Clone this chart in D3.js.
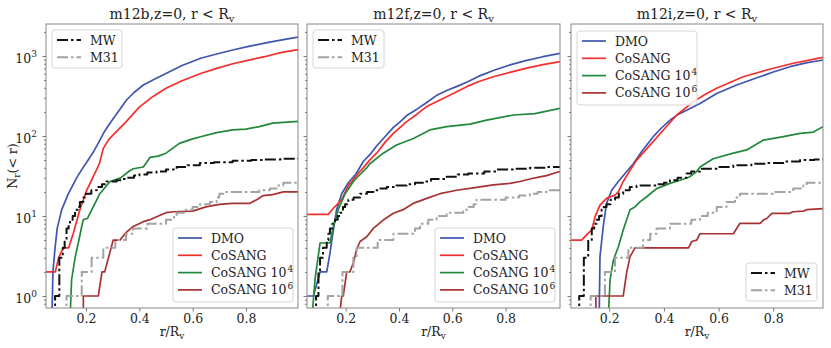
<!DOCTYPE html>
<html>
<head>
<meta charset="utf-8">
<script src="https://cdn.jsdelivr.net/npm/d3@7"></script>
<style>
body { margin: 0; background: #fff; }
text { font-family: "DejaVu Serif", serif; fill: #222; }
</style>
</head>
<body>
<svg id="fig" width="831" height="348"></svg>
<script>
// cumulative subhalo counts N(<r) vs r/Rv as [r/Rv, N]
var m12b_dmo = [[0.072,0.5],[0.076,2],[0.084,4],[0.092,7],[0.109,12],[0.134,19],[0.165,30],[0.184,38],[0.208,50],[0.23,65],[0.252,89],[0.27,115],[0.29,144],[0.32,200],[0.352,282],[0.38,350],[0.415,434],[0.46,520],[0.5,605],[0.56,760],[0.63,936],[0.69,1060],[0.75,1190],[0.81,1320],[0.87,1450],[0.93,1580],[0.995,1720]];
var m12b_cosang = [[0.05,2],[0.085,2],[0.097,3],[0.115,4],[0.135,4],[0.152,6],[0.177,12],[0.2,20],[0.225,30],[0.25,45],[0.265,70],[0.285,90],[0.31,110],[0.35,150],[0.4,230],[0.45,310],[0.5,395],[0.56,490],[0.63,605],[0.69,700],[0.75,800],[0.81,890],[0.87,980],[0.93,1100],[0.995,1200]];
var m12b_c4 = [[0.14,0.5],[0.146,1.6],[0.159,3],[0.171,4.6],[0.184,7.4],[0.19,9],[0.205,9.3],[0.227,13],[0.252,19],[0.29,27],[0.33,30],[0.36,36],[0.377,39],[0.415,41],[0.44,54],[0.47,56],[0.5,61],[0.55,81],[0.6,92],[0.63,98],[0.69,110],[0.75,119],[0.8,122],[0.85,131],[0.9,145],[0.995,152]];
var m12b_c6 = [[0.19,0.5],[0.19,1],[0.246,1],[0.26,2],[0.27,2],[0.302,5],[0.327,5],[0.352,6.3],[0.377,7.4],[0.415,8.5],[0.44,9],[0.465,9.8],[0.5,11],[0.527,11.3],[0.6,11.5],[0.65,13],[0.7,14],[0.75,14.4],[0.815,14.4],[0.84,16],[0.865,18],[0.9,18.5],[0.94,20],[0.995,20]];
var m12b_mw = [[0.084,0.5],[0.084,1],[0.1,3],[0.113,4],[0.12,5],[0.127,7],[0.135,8],[0.14,9],[0.15,10],[0.159,12],[0.17,13],[0.177,15],[0.19,17],[0.2,19],[0.22,21],[0.24,23],[0.26,25],[0.277,27],[0.315,28],[0.335,29],[0.35,30],[0.38,32],[0.4,33],[0.43,35],[0.465,36],[0.5,38],[0.54,41],[0.58,43],[0.627,46],[0.68,47],[0.75,49],[0.82,50],[0.87,51],[0.93,52],[0.995,53]];
var m12b_m31 = [[0.127,0.5],[0.127,1],[0.184,2],[0.221,3],[0.265,4],[0.31,5],[0.35,6],[0.377,7],[0.43,8],[0.5,9],[0.53,10],[0.54,11],[0.575,12],[0.6,13],[0.627,14],[0.665,15],[0.69,17],[0.7,19],[0.72,20],[0.85,21],[0.89,22],[0.915,24],[0.94,26],[0.995,26]];

var m12f_dmo = [[0.05,1],[0.079,1],[0.104,2],[0.129,2],[0.141,3.4],[0.154,6.7],[0.166,12],[0.185,19],[0.21,26],[0.24,34],[0.266,48],[0.29,58],[0.316,75],[0.35,100],[0.379,128],[0.404,150],[0.429,180],[0.466,215],[0.5,257],[0.54,320],[0.579,370],[0.62,420],[0.654,470],[0.7,560],[0.754,660],[0.82,780],[0.879,880],[0.94,980],[1.004,1076]];
var m12f_cosang = [[0.05,10.5],[0.135,10.5],[0.154,12.5],[0.172,14.4],[0.185,16],[0.21,24],[0.223,27],[0.247,34],[0.266,40],[0.29,50],[0.316,61],[0.35,85],[0.379,108],[0.429,151],[0.47,190],[0.504,233],[0.579,310],[0.654,414],[0.7,480],[0.754,550],[0.82,630],[0.879,705],[0.94,780],[1.004,850]];
var m12f_c4 = [[0.073,0.5],[0.085,1.6],[0.095,2.8],[0.104,4.6],[0.141,4.6],[0.154,7.4],[0.172,12],[0.198,19],[0.229,27],[0.254,33],[0.279,40],[0.291,45],[0.341,61],[0.391,77],[0.454,93],[0.516,119],[0.579,131],[0.666,141],[0.729,158],[0.829,183],[0.91,190],[1.004,222]];
var m12f_c6 = [[0.176,0.5],[0.185,1],[0.191,1],[0.204,2],[0.216,2],[0.229,2.6],[0.241,3.8],[0.254,4.8],[0.279,5.5],[0.304,7],[0.341,8.9],[0.379,10.8],[0.416,12],[0.454,14.4],[0.504,16.6],[0.554,19],[0.616,21],[0.679,22.5],[0.754,24.5],[0.816,25.6],[0.854,27],[0.891,29],[0.929,30.8],[0.954,32],[0.99,35],[1.004,36]];
var m12f_mw = [[0.089,0.5],[0.089,1],[0.098,2],[0.104,3],[0.115,4],[0.129,5],[0.135,6],[0.141,7],[0.15,8],[0.16,9],[0.17,10],[0.179,11],[0.19,13],[0.198,14],[0.21,16],[0.23,17],[0.254,19],[0.28,20],[0.304,21],[0.33,22],[0.354,23],[0.39,24],[0.429,25],[0.46,26],[0.49,27],[0.52,29],[0.579,31],[0.62,33],[0.66,34],[0.72,36],[0.766,38],[0.83,39],[0.891,40],[0.95,41],[1.004,41]];
var m12f_m31 = [[0.133,0.5],[0.133,1],[0.188,2],[0.229,3],[0.241,4],[0.32,5],[0.379,6],[0.46,7],[0.479,8],[0.51,9],[0.541,10],[0.579,11],[0.641,12],[0.66,13],[0.68,14],[0.691,16],[0.8,17],[0.85,18],[0.891,19],[0.92,20],[0.954,21],[1.004,21]];

var m12i_dmo = [[0.163,0.5],[0.166,3.1],[0.178,7.4],[0.19,14.4],[0.209,21],[0.233,27],[0.264,36],[0.288,45],[0.32,65],[0.361,98],[0.39,125],[0.422,158],[0.45,185],[0.483,210],[0.532,255],[0.593,340],[0.666,434],[0.751,550],[0.8,630],[0.861,735],[0.92,820],[0.982,891]];
var m12i_cosang = [[0.06,5],[0.099,5],[0.117,5.8],[0.136,6.7],[0.148,9.8],[0.166,13.7],[0.19,16.6],[0.221,18.3],[0.233,20],[0.251,27],[0.282,40],[0.3,50],[0.349,77],[0.398,119],[0.447,183],[0.507,267],[0.55,330],[0.593,395],[0.69,550],[0.776,668],[0.873,812],[0.982,960]];
var m12i_c4 = [[0.196,0.5],[0.203,1.6],[0.215,2.8],[0.233,4.1],[0.251,6.7],[0.276,12],[0.294,13],[0.312,15],[0.337,17.4],[0.373,22],[0.422,25.6],[0.459,28],[0.495,31],[0.52,36],[0.532,41],[0.58,52],[0.654,61],[0.703,67],[0.764,89],[0.837,98],[0.898,108],[0.947,112],[0.982,131]];
var m12i_c6 = [[0.151,0.5],[0.151,1],[0.251,1],[0.264,2],[0.276,3.1],[0.294,4],[0.49,4],[0.502,4.8],[0.52,5],[0.532,6],[0.654,6],[0.678,8.1],[0.752,8.1],[0.764,8.9],[0.776,9.3],[0.795,10.8],[0.86,10.8],[0.872,11.3],[0.91,11.5],[0.922,12],[0.982,12.4]];
var m12i_mw = [[0.09,0.5],[0.09,1],[0.107,3],[0.123,5],[0.136,7],[0.145,8],[0.154,9],[0.163,10],[0.172,12],[0.18,13],[0.19,14],[0.205,16],[0.221,17],[0.235,19],[0.251,21],[0.275,23],[0.3,24],[0.373,25],[0.4,26],[0.422,28],[0.45,30],[0.483,34],[0.5,36],[0.532,39],[0.6,41],[0.654,43],[0.72,45],[0.776,46],[0.84,48],[0.898,50],[0.95,51],[0.982,51]];
var m12i_m31 = [[0.132,0.5],[0.132,1],[0.184,2],[0.221,3],[0.27,4],[0.324,5],[0.35,6],[0.373,7],[0.422,8],[0.5,9],[0.532,10],[0.56,11],[0.593,13],[0.629,15],[0.66,17],[0.678,19],[0.8,20],[0.873,22],[0.91,24],[0.922,26],[0.982,26]];

var haloNames = ["m12b", "m12f", "m12i"];
var simLabels = ["DMO", "CoSANG", "CoSANG 10", "CoSANG 10"];
var simSups = ["", "", "4", "6"];
var obsLabels = ["MW", "M31"];
var xTickValues = [0.2, 0.4, 0.6, 0.8];
var yTickValues = [1, 10, 100, 1000];
var yTickExps = ["0", "1", "2", "3"];

var svg = d3.select("#fig");
var plotTop = 24, plotBottom = 308;

var y = d3.scaleLog()
    .domain([0.708, 2512])
    .range([plotBottom, plotTop]);

// line styles: DMO, CoSANG, CoSANG 1e4, CoSANG 1e6, MW, M31
var styles = [
    {color: "#3f55ae", width: 1.7, dash: null, curve: d3.curveLinear},
    {color: "#f52d2d", width: 1.7, dash: null, curve: d3.curveLinear},
    {color: "#22883a", width: 1.7, dash: null, curve: d3.curveLinear},
    {color: "#a83232", width: 1.7, dash: null, curve: d3.curveLinear},
    {color: "#111111", width: 2, dash: "11,3,2.5,3", curve: d3.curveStepAfter},
    {color: "#a3a3a3", width: 2, dash: "11,3,2.5,3", curve: d3.curveStepAfter}
];

var panels = [
    {left: 46, right: 298, xlim: [0.05, 0.995], yLabels: true,
     series: [m12b_dmo, m12b_cosang, m12b_c4, m12b_c6, m12b_mw, m12b_m31],
     simBox: [173, 228, 120, 74], obsBox: [52, 30, 70, 38]},
    {left: 307, right: 560, xlim: [0.055, 1.004], yLabels: false,
     series: [m12f_dmo, m12f_cosang, m12f_c4, m12f_c6, m12f_mw, m12f_m31],
     simBox: [435, 228, 120, 74], obsBox: [313, 30, 71, 38]},
    {left: 571, right: 823, xlim: [0.06, 0.982], yLabels: false,
     series: [m12i_dmo, m12i_cosang, m12i_c4, m12i_c6, m12i_mw, m12i_m31],
     simBox: [577, 31, 120, 74], obsBox: [746, 263, 71, 38]}
];

var yMinor = y.ticks().filter(function(d) { return yTickValues.indexOf(d) < 0; });

function legendBox(g, box, rows) {
    g.append("rect")
        .attr("x", box[0]).attr("y", box[1])
        .attr("width", box[2]).attr("height", box[3])
        .attr("rx", 3)
        .attr("fill", "#fff").attr("fill-opacity", 0.85)
        .attr("stroke", "#d5d5d5").attr("stroke-width", 1);
    rows.forEach(function(r, i) {
        var ly = box[1] + 10 + i * 17.3;
        g.append("line")
            .attr("x1", box[0] + 5).attr("x2", box[0] + 29)
            .attr("y1", ly).attr("y2", ly)
            .attr("stroke", r.style.color)
            .attr("stroke-width", r.style.width)
            .attr("stroke-dasharray", r.style.dash);
        var t = g.append("text")
            .attr("x", box[0] + 38).attr("y", ly + 4.5)
            .style("font-size", "12.5px");
        t.append("tspan").text(r.label);
        if (r.sup) {
            t.append("tspan").attr("dx", 1).attr("dy", -5)
                .style("font-size", "9px").text(r.sup);
        }
    });
}

panels.forEach(function(p, pi) {
    var x = d3.scaleLinear().domain(p.xlim).range([p.left, p.right]);
    var g = svg.append("g");

    g.append("clipPath").attr("id", "clip" + pi)
        .append("rect")
        .attr("x", p.left).attr("y", plotTop)
        .attr("width", p.right - p.left).attr("height", plotBottom - plotTop);

    // x axis
    var xa = g.append("g")
        .attr("transform", "translate(0," + plotBottom + ")")
        .call(d3.axisBottom(x).tickValues(xTickValues).tickSize(3.5).tickPadding(3)
            .tickFormat(d3.format(".1f")));
    xa.select(".domain").remove();
    xa.selectAll("line").attr("stroke", "#777");
    xa.selectAll("text").style("font-size", "12.5px").attr("fill", "#222");

    // y axis, minor then major
    var ym = g.append("g")
        .attr("transform", "translate(" + p.left + ",0)")
        .call(d3.axisLeft(y).tickValues(yMinor).tickSize(2).tickFormat(""));
    ym.select(".domain").remove();
    ym.selectAll("line").attr("stroke", "#777");

    var yM = g.append("g")
        .attr("transform", "translate(" + p.left + ",0)")
        .call(d3.axisLeft(y).tickValues(yTickValues).tickSize(3.5).tickPadding(4)
            .tickFormat(function() { return ""; }));
    yM.select(".domain").remove();
    yM.selectAll("line").attr("stroke", "#777");
    if (p.yLabels) {
        yM.selectAll(".tick text").each(function(d, i) {
            var t = d3.select(this).style("font-size", "12.5px").attr("fill", "#222")
                .attr("dy", "0.5em").attr("x", -9);
            t.append("tspan").text("10");
            t.append("tspan").attr("dy", -6).style("font-size", "9px").text(yTickExps[i]);
        });
    }

    // curves
    var lines = g.append("g").attr("clip-path", "url(#clip" + pi + ")");
    p.series.forEach(function(s, si) {
        var st = styles[si];
        var line = d3.line()
            .curve(st.curve)
            .x(function(d) { return x(d[0]); })
            .y(function(d) { return y(d[1]); });
        lines.append("path")
            .datum(s)
            .attr("fill", "none")
            .attr("stroke", st.color)
            .attr("stroke-width", st.width)
            .attr("stroke-dasharray", st.dash)
            .attr("stroke-linejoin", "round")
            .attr("d", line);
    });

    // frame
    g.append("rect")
        .attr("x", p.left).attr("y", plotTop)
        .attr("width", p.right - p.left).attr("height", plotBottom - plotTop)
        .attr("fill", "none").attr("stroke", "#888").attr("stroke-width", 1);

    // legends
    legendBox(g, p.simBox, simLabels.map(function(l, i) {
        return {label: l, sup: simSups[i], style: styles[i]};
    }));
    legendBox(g, p.obsBox, obsLabels.map(function(l, i) {
        return {label: l, sup: "", style: styles[4 + i]};
    }));

    // title
    var cx = (p.left + p.right) / 2;
    var tt = g.append("text").attr("x", cx).attr("y", 19)
        .attr("text-anchor", "middle").style("font-size", "14px");
    tt.append("tspan").text(haloNames[pi] + ",z=0, r < R");
    tt.append("tspan").attr("dy", 3).style("font-size", "10px").text("v");

    // x label
    var xl = g.append("text").attr("x", cx).attr("y", 336)
        .attr("text-anchor", "middle").style("font-size", "12.5px");
    xl.append("tspan").text("r/R");
    xl.append("tspan").attr("dy", 3).style("font-size", "9px").text("v");
});

// y label
var yl = svg.append("text")
    .attr("transform", "translate(17,166) rotate(-90)")
    .attr("text-anchor", "middle").style("font-size", "12.5px");
yl.append("tspan").text("N");
yl.append("tspan").attr("dy", 3).style("font-size", "9px").text("r");
yl.append("tspan").attr("dy", -3).text("(< r)");
</script>
</body>
</html>
